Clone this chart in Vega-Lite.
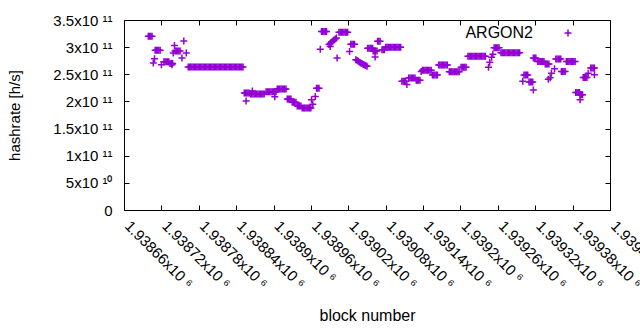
{
"$schema": "https://vega.github.io/schema/vega-lite/v6.json",
"width": 486, "height": 190,
"autosize": {"type": "none"},
"padding": {"left": 124, "top": 20, "right": 30, "bottom": 120},
"background": "white",
"config": {"font": "Liberation Sans", "view": {"stroke": "black", "strokeWidth": 1}},
"data": {"values": [
{"block":1938699,"hashrate":3.2e11},{"block":1938701,"hashrate":3.2e11},{"block":1938703,"hashrate":3.2e11},{"block":1938705,"hashrate":3.2e11},
{"block":1938707,"hashrate":2.71e11},{"block":1938709,"hashrate":2.785e11},
{"block":1938710,"hashrate":2.945e11},{"block":1938712,"hashrate":2.945e11},{"block":1938714,"hashrate":2.945e11},{"block":1938716,"hashrate":2.945e11},{"block":1938718,"hashrate":2.945e11},
{"block":1938720,"hashrate":2.675e11},
{"block":1938724,"hashrate":2.73e11},{"block":1938726,"hashrate":2.73e11},{"block":1938728,"hashrate":2.73e11},{"block":1938730,"hashrate":2.73e11},{"block":1938732,"hashrate":2.73e11},
{"block":1938734,"hashrate":2.7e11},{"block":1938736,"hashrate":2.7e11},{"block":1938738,"hashrate":2.7e11},
{"block":1938737,"hashrate":2.675e11},{"block":1938739,"hashrate":2.89e11},{"block":1938741,"hashrate":3.03e11},
{"block":1938742,"hashrate":2.93e11},{"block":1938744,"hashrate":2.93e11},{"block":1938746,"hashrate":2.93e11},{"block":1938748,"hashrate":2.93e11},{"block":1938750,"hashrate":2.93e11},
{"block":1938753,"hashrate":2.8e11},{"block":1938756,"hashrate":3.115e11},{"block":1938760,"hashrate":2.89e11},
{"block":1938763,"hashrate":2.632e11},{"block":1938765,"hashrate":2.632e11},{"block":1938767,"hashrate":2.632e11},{"block":1938769,"hashrate":2.632e11},{"block":1938771,"hashrate":2.632e11},{"block":1938773,"hashrate":2.632e11},{"block":1938775,"hashrate":2.632e11},{"block":1938777,"hashrate":2.632e11},{"block":1938779,"hashrate":2.632e11},{"block":1938781,"hashrate":2.632e11},{"block":1938783,"hashrate":2.632e11},{"block":1938785,"hashrate":2.632e11},{"block":1938787,"hashrate":2.632e11},{"block":1938789,"hashrate":2.632e11},{"block":1938791,"hashrate":2.632e11},{"block":1938793,"hashrate":2.632e11},{"block":1938795,"hashrate":2.632e11},{"block":1938797,"hashrate":2.632e11},{"block":1938799,"hashrate":2.632e11},{"block":1938801,"hashrate":2.632e11},{"block":1938803,"hashrate":2.632e11},{"block":1938805,"hashrate":2.632e11},{"block":1938807,"hashrate":2.632e11},{"block":1938809,"hashrate":2.632e11},{"block":1938811,"hashrate":2.632e11},{"block":1938813,"hashrate":2.632e11},{"block":1938815,"hashrate":2.632e11},{"block":1938817,"hashrate":2.632e11},{"block":1938819,"hashrate":2.632e11},{"block":1938821,"hashrate":2.632e11},{"block":1938823,"hashrate":2.632e11},{"block":1938825,"hashrate":2.632e11},{"block":1938827,"hashrate":2.632e11},{"block":1938829,"hashrate":2.632e11},{"block":1938831,"hashrate":2.632e11},{"block":1938833,"hashrate":2.632e11},{"block":1938835,"hashrate":2.632e11},{"block":1938837,"hashrate":2.632e11},{"block":1938839,"hashrate":2.632e11},{"block":1938841,"hashrate":2.632e11},{"block":1938843,"hashrate":2.632e11},{"block":1938845,"hashrate":2.632e11},{"block":1938847,"hashrate":2.632e11},{"block":1938849,"hashrate":2.632e11},{"block":1938851,"hashrate":2.632e11},
{"block":1938853,"hashrate":2.155e11},{"block":1938855,"hashrate":2.155e11},{"block":1938857,"hashrate":2.155e11},{"block":1938859,"hashrate":2.155e11},{"block":1938861,"hashrate":2.155e11},
{"block":1938856,"hashrate":2.01e11},
{"block":1938863,"hashrate":2.135e11},{"block":1938865,"hashrate":2.135e11},{"block":1938867,"hashrate":2.135e11},{"block":1938869,"hashrate":2.135e11},{"block":1938871,"hashrate":2.135e11},{"block":1938873,"hashrate":2.135e11},{"block":1938875,"hashrate":2.135e11},{"block":1938877,"hashrate":2.135e11},{"block":1938879,"hashrate":2.135e11},{"block":1938881,"hashrate":2.135e11},{"block":1938883,"hashrate":2.135e11},{"block":1938885,"hashrate":2.135e11},
{"block":1938866,"hashrate":2.19e11},
{"block":1938888,"hashrate":2.18e11},{"block":1938890,"hashrate":2.18e11},{"block":1938892,"hashrate":2.18e11},{"block":1938894,"hashrate":2.18e11},{"block":1938896,"hashrate":2.18e11},{"block":1938898,"hashrate":2.18e11},{"block":1938900,"hashrate":2.18e11},{"block":1938902,"hashrate":2.18e11},{"block":1938904,"hashrate":2.18e11},
{"block":1938902,"hashrate":2.085e11},
{"block":1938906,"hashrate":2.23e11},{"block":1938908,"hashrate":2.23e11},{"block":1938910,"hashrate":2.23e11},{"block":1938912,"hashrate":2.23e11},{"block":1938914,"hashrate":2.23e11},{"block":1938916,"hashrate":2.23e11},{"block":1938918,"hashrate":2.23e11},{"block":1938920,"hashrate":2.23e11},
{"block":1938922,"hashrate":2.045e11},{"block":1938924,"hashrate":2.045e11},{"block":1938926,"hashrate":2.045e11},{"block":1938928,"hashrate":2.045e11},
{"block":1938930,"hashrate":1.985e11},{"block":1938932,"hashrate":1.985e11},{"block":1938934,"hashrate":1.985e11},{"block":1938936,"hashrate":1.985e11},
{"block":1938938,"hashrate":1.915e11},{"block":1938940,"hashrate":1.915e11},{"block":1938942,"hashrate":1.915e11},{"block":1938944,"hashrate":1.915e11},
{"block":1938946,"hashrate":1.88e11},{"block":1938948,"hashrate":1.88e11},{"block":1938950,"hashrate":1.88e11},{"block":1938952,"hashrate":1.88e11},{"block":1938954,"hashrate":1.88e11},{"block":1938956,"hashrate":1.88e11},{"block":1938958,"hashrate":1.88e11},{"block":1938960,"hashrate":1.88e11},
{"block":1938961,"hashrate":2.03e11},{"block":1938963,"hashrate":1.95e11},{"block":1938967,"hashrate":2.09e11},
{"block":1938969,"hashrate":2.245e11},{"block":1938971,"hashrate":2.245e11},{"block":1938973,"hashrate":2.245e11},
{"block":1938975,"hashrate":2.96e11},
{"block":1938977,"hashrate":3.29e11},{"block":1938979,"hashrate":3.29e11},{"block":1938981,"hashrate":3.29e11},{"block":1938983,"hashrate":3.29e11},{"block":1938985,"hashrate":3.29e11},
{"block":1938989,"hashrate":3.05e11},{"block":1938991,"hashrate":3.07e11},{"block":1938993,"hashrate":3.09e11},{"block":1938995,"hashrate":3.11e11},{"block":1938997,"hashrate":3.13e11},{"block":1938999,"hashrate":3.15e11},{"block":1939001,"hashrate":3.17e11},
{"block":1938991,"hashrate":3.01e11},{"block":1939002,"hashrate":2.8e11},
{"block":1939005,"hashrate":3.275e11},{"block":1939007,"hashrate":3.275e11},{"block":1939009,"hashrate":3.275e11},{"block":1939011,"hashrate":3.275e11},{"block":1939013,"hashrate":3.275e11},{"block":1939015,"hashrate":3.275e11},{"block":1939017,"hashrate":3.275e11},{"block":1939019,"hashrate":3.275e11},
{"block":1939022,"hashrate":2.92e11},
{"block":1939024,"hashrate":3.055e11},{"block":1939026,"hashrate":3.055e11},{"block":1939028,"hashrate":3.055e11},{"block":1939030,"hashrate":3.055e11},
{"block":1939032,"hashrate":2.77e11},{"block":1939034,"hashrate":2.76e11},{"block":1939036,"hashrate":2.74e11},{"block":1939038,"hashrate":2.72e11},{"block":1939040,"hashrate":2.71e11},{"block":1939042,"hashrate":2.7e11},{"block":1939044,"hashrate":2.68e11},{"block":1939046,"hashrate":2.67e11},{"block":1939048,"hashrate":2.66e11},{"block":1939050,"hashrate":2.65e11},
{"block":1939051,"hashrate":2.98e11},{"block":1939053,"hashrate":2.98e11},{"block":1939055,"hashrate":2.98e11},{"block":1939057,"hashrate":2.98e11},{"block":1939059,"hashrate":2.98e11},
{"block":1939060,"hashrate":2.93e11},{"block":1939062,"hashrate":2.93e11},{"block":1939064,"hashrate":2.93e11},{"block":1939066,"hashrate":2.93e11},
{"block":1939063,"hashrate":2.82e11},
{"block":1939067,"hashrate":3.11e11},{"block":1939069,"hashrate":3.11e11},{"block":1939071,"hashrate":3.11e11},
{"block":1939074,"hashrate":2.95e11},{"block":1939076,"hashrate":2.95e11},{"block":1939078,"hashrate":2.95e11},
{"block":1939080,"hashrate":3.0e11},{"block":1939082,"hashrate":3.0e11},{"block":1939084,"hashrate":3.0e11},{"block":1939086,"hashrate":3.0e11},{"block":1939088,"hashrate":3.0e11},{"block":1939090,"hashrate":3.0e11},{"block":1939092,"hashrate":3.0e11},{"block":1939094,"hashrate":3.0e11},{"block":1939096,"hashrate":3.0e11},{"block":1939098,"hashrate":3.0e11},{"block":1939100,"hashrate":3.0e11},{"block":1939102,"hashrate":3.0e11},{"block":1939104,"hashrate":3.0e11},
{"block":1939106,"hashrate":2.37e11},{"block":1939108,"hashrate":2.37e11},{"block":1939110,"hashrate":2.37e11},{"block":1939112,"hashrate":2.37e11},
{"block":1939114,"hashrate":2.31e11},
{"block":1939117,"hashrate":2.43e11},{"block":1939119,"hashrate":2.43e11},{"block":1939121,"hashrate":2.43e11},{"block":1939123,"hashrate":2.43e11},{"block":1939125,"hashrate":2.43e11},{"block":1939127,"hashrate":2.43e11},
{"block":1939129,"hashrate":2.39e11},{"block":1939131,"hashrate":2.39e11},{"block":1939133,"hashrate":2.39e11},{"block":1939135,"hashrate":2.39e11},
{"block":1939137,"hashrate":2.55e11},
{"block":1939139,"hashrate":2.575e11},{"block":1939141,"hashrate":2.575e11},{"block":1939143,"hashrate":2.575e11},{"block":1939145,"hashrate":2.575e11},{"block":1939147,"hashrate":2.575e11},{"block":1939149,"hashrate":2.575e11},{"block":1939151,"hashrate":2.575e11},{"block":1939153,"hashrate":2.575e11},
{"block":1939155,"hashrate":2.485e11},{"block":1939157,"hashrate":2.485e11},{"block":1939159,"hashrate":2.485e11},{"block":1939161,"hashrate":2.485e11},{"block":1939163,"hashrate":2.485e11},
{"block":1939165,"hashrate":2.67e11},{"block":1939167,"hashrate":2.67e11},{"block":1939169,"hashrate":2.67e11},{"block":1939171,"hashrate":2.67e11},{"block":1939173,"hashrate":2.67e11},{"block":1939175,"hashrate":2.67e11},{"block":1939177,"hashrate":2.67e11},{"block":1939179,"hashrate":2.67e11},
{"block":1939182,"hashrate":2.545e11},{"block":1939184,"hashrate":2.545e11},{"block":1939186,"hashrate":2.545e11},{"block":1939188,"hashrate":2.545e11},{"block":1939190,"hashrate":2.545e11},{"block":1939192,"hashrate":2.545e11},{"block":1939194,"hashrate":2.545e11},{"block":1939196,"hashrate":2.545e11},{"block":1939198,"hashrate":2.545e11},
{"block":1939201,"hashrate":2.63e11},{"block":1939203,"hashrate":2.63e11},{"block":1939205,"hashrate":2.63e11},{"block":1939207,"hashrate":2.63e11},{"block":1939209,"hashrate":2.63e11},
{"block":1939212,"hashrate":2.83e11},{"block":1939214,"hashrate":2.83e11},{"block":1939216,"hashrate":2.83e11},{"block":1939218,"hashrate":2.83e11},{"block":1939220,"hashrate":2.83e11},{"block":1939222,"hashrate":2.83e11},{"block":1939224,"hashrate":2.83e11},{"block":1939226,"hashrate":2.83e11},{"block":1939228,"hashrate":2.83e11},{"block":1939230,"hashrate":2.83e11},{"block":1939232,"hashrate":2.83e11},{"block":1939234,"hashrate":2.83e11},{"block":1939236,"hashrate":2.83e11},{"block":1939238,"hashrate":2.83e11},{"block":1939240,"hashrate":2.83e11},
{"block":1939245,"hashrate":2.63e11},{"block":1939247,"hashrate":2.72e11},{"block":1939250,"hashrate":2.815e11},{"block":1939252,"hashrate":2.87e11},
{"block":1939254,"hashrate":2.99e11},{"block":1939256,"hashrate":2.99e11},{"block":1939258,"hashrate":2.99e11},{"block":1939260,"hashrate":2.99e11},{"block":1939262,"hashrate":2.99e11},
{"block":1939265,"hashrate":2.895e11},{"block":1939267,"hashrate":2.895e11},{"block":1939269,"hashrate":2.895e11},{"block":1939271,"hashrate":2.895e11},{"block":1939273,"hashrate":2.895e11},{"block":1939275,"hashrate":2.895e11},{"block":1939277,"hashrate":2.895e11},{"block":1939279,"hashrate":2.895e11},{"block":1939281,"hashrate":2.895e11},{"block":1939283,"hashrate":2.895e11},{"block":1939285,"hashrate":2.895e11},{"block":1939287,"hashrate":2.895e11},{"block":1939289,"hashrate":2.895e11},{"block":1939291,"hashrate":2.895e11},{"block":1939293,"hashrate":2.895e11},{"block":1939295,"hashrate":2.895e11},
{"block":1939300,"hashrate":2.37e11},
{"block":1939302,"hashrate":2.485e11},{"block":1939304,"hashrate":2.485e11},{"block":1939306,"hashrate":2.485e11},{"block":1939308,"hashrate":2.485e11},
{"block":1939310,"hashrate":2.36e11},{"block":1939312,"hashrate":2.36e11},{"block":1939314,"hashrate":2.36e11},{"block":1939316,"hashrate":2.36e11},
{"block":1939317,"hashrate":2.21e11},
{"block":1939317,"hashrate":2.8e11},{"block":1939319,"hashrate":2.8e11},{"block":1939321,"hashrate":2.8e11},
{"block":1939324,"hashrate":2.735e11},{"block":1939326,"hashrate":2.735e11},{"block":1939328,"hashrate":2.735e11},{"block":1939330,"hashrate":2.735e11},{"block":1939332,"hashrate":2.735e11},{"block":1939334,"hashrate":2.735e11},
{"block":1939336,"hashrate":2.69e11},{"block":1939338,"hashrate":2.69e11},{"block":1939340,"hashrate":2.69e11},{"block":1939342,"hashrate":2.69e11},
{"block":1939341,"hashrate":2.41e11},{"block":1939344,"hashrate":2.435e11},{"block":1939346,"hashrate":2.52e11},{"block":1939351,"hashrate":2.6e11},
{"block":1939353,"hashrate":2.78e11},{"block":1939355,"hashrate":2.78e11},{"block":1939357,"hashrate":2.78e11},{"block":1939359,"hashrate":2.78e11},{"block":1939361,"hashrate":2.78e11},
{"block":1939362,"hashrate":2.55e11},{"block":1939364,"hashrate":2.55e11},{"block":1939366,"hashrate":2.55e11},{"block":1939368,"hashrate":2.55e11},
{"block":1939370,"hashrate":2.735e11},{"block":1939372,"hashrate":2.735e11},{"block":1939374,"hashrate":2.735e11},{"block":1939376,"hashrate":2.735e11},{"block":1939378,"hashrate":2.735e11},{"block":1939380,"hashrate":2.735e11},{"block":1939382,"hashrate":2.735e11},{"block":1939384,"hashrate":2.735e11},
{"block":1939385,"hashrate":2.165e11},{"block":1939387,"hashrate":2.165e11},{"block":1939389,"hashrate":2.165e11},{"block":1939391,"hashrate":2.165e11},
{"block":1939392,"hashrate":2.125e11},{"block":1939394,"hashrate":2.125e11},{"block":1939396,"hashrate":2.125e11},
{"block":1939392,"hashrate":2.03e11},
{"block":1939397,"hashrate":2.44e11},{"block":1939399,"hashrate":2.44e11},{"block":1939401,"hashrate":2.44e11},{"block":1939403,"hashrate":2.44e11},
{"block":1939405,"hashrate":2.52e11},
{"block":1939409,"hashrate":2.615e11},{"block":1939411,"hashrate":2.615e11},{"block":1939413,"hashrate":2.615e11},{"block":1939415,"hashrate":2.615e11},
{"block":1939415,"hashrate":2.49e11}
]},
"layer": [
{
"mark": {"type": "point", "shape": "M-1,0H1M0,-1V1", "filled": false, "size": 49, "strokeWidth": 1.5, "opacity": 1, "clip": false},
"encoding": {
"x": {"field": "block", "type": "quantitative",
 "scale": {"domain": [1938660, 1939440], "nice": false, "zero": false},
 "axis": {"orient": "bottom", "values": [1938660,1938720,1938780,1938840,1938900,1938960,1939020,1939080,1939140,1939200,1939260,1939320,1939380,1939440],
  "labelExpr": "format(datum.value/1e6, '.6~f') + 'x10 ⁶'",
  "labelAngle": 45, "labelAlign": "left", "labelBaseline": "middle", "labelFontSize": 15, "labelColor": "black",
  "labelOverlap": false, "labelBound": false, "labelFlush": false, "labelPadding": 18, "labelOffset": 3,
  "tickSize": -5, "tickColor": "black", "domain": false, "grid": false,
  "title": "block number", "titleFontSize": 16, "titleFontWeight": "normal", "titleColor": "black", "titlePadding": 16}},
"y": {"field": "hashrate", "type": "quantitative",
 "scale": {"domain": [0, 350000000000], "nice": false, "zero": true},
 "axis": {"orient": "left", "values": [0,50000000000,100000000000,150000000000,200000000000,250000000000,300000000000,350000000000],
  "labelExpr": "datum.value == 0 ? '0' : (datum.value >= 1e11 ? format(datum.value/1e11, '~g') + 'x10 ¹¹' : format(datum.value/1e10, '~g') + 'x10 ¹⁰')",
  "labelFontSize": 15, "labelColor": "black", "labelPadding": 17, "labelOverlap": false,
  "tickSize": -5, "tickColor": "black", "domain": false, "grid": false,
  "title": "hashrate [h/s]", "titleFontSize": 15, "titleFontWeight": "normal", "titleColor": "black", "titlePadding": 30}},
"color": {"datum": "ARGON2", "type": "nominal", "scale": {"range": ["#9400d3"]},
 "legend": {"orient": "none", "legendX": 436, "legendY": 5, "title": null, "padding": 0,
  "symbolType": "M-1,0H1M0,-1V1", "symbolSize": 49, "symbolStrokeWidth": 1.5,
  "labelFontSize": 16, "labelColor": "black", "labelAlign": "right", "labelOffset": -43, "labelLimit": 0}}
}
},
{
"mark": {"type": "point", "opacity": 0},
"encoding": {
"x": {"field": "block", "type": "quantitative",
 "scale": {"domain": [1938660, 1939440], "nice": false, "zero": false},
 "axis": {"orient": "top", "values": [1938660,1938720,1938780,1938840,1938900,1938960,1939020,1939080,1939140,1939200,1939260,1939320,1939380,1939440],
  "labels": false, "tickSize": -5, "tickColor": "black", "domain": false, "grid": false, "title": null}},
"y": {"field": "hashrate", "type": "quantitative",
 "scale": {"domain": [0, 350000000000], "nice": false, "zero": true},
 "axis": {"orient": "right", "values": [0,50000000000,100000000000,150000000000,200000000000,250000000000,300000000000,350000000000],
  "labels": false, "tickSize": -5, "tickColor": "black", "domain": false, "grid": false, "title": null}}
}
}
],
"resolve": {"axis": {"x": "independent", "y": "independent"}}
}
